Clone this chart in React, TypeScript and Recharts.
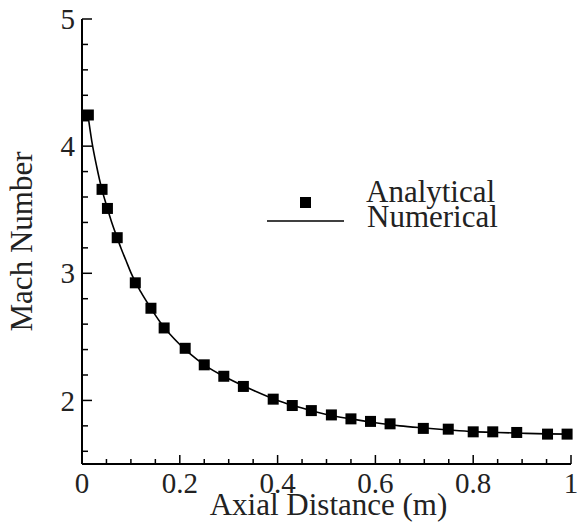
import { ComposedChart, Line, Scatter, XAxis, YAxis, Legend, Label } from "recharts";

// Analytical solution (square markers)
const analyticalX = [
  0.013, 0.041, 0.052, 0.072, 0.109, 0.141, 0.168, 0.211, 0.25, 0.29, 0.33, 0.391, 0.43,
  0.469, 0.51, 0.55, 0.59, 0.63, 0.698, 0.749, 0.8, 0.84, 0.889, 0.952, 0.992,
];
const analyticalY = [
  4.245, 3.66, 3.51, 3.28, 2.925, 2.725, 2.57, 2.41, 2.28, 2.19, 2.11, 2.01, 1.96, 1.92,
  1.886, 1.855, 1.835, 1.816, 1.78, 1.774, 1.753, 1.753, 1.748, 1.735, 1.735,
];

// Numerical solution (solid line)
const numericalX = [
  0.012, 0.02, 0.03, 0.04, 0.05, 0.06, 0.07, 0.08, 0.09, 0.1, 0.12, 0.14, 0.16, 0.18, 0.2,
  0.22, 0.25, 0.3, 0.35, 0.4, 0.45, 0.5, 0.55, 0.6, 0.65, 0.7, 0.75, 0.8, 0.85, 0.9, 0.95, 1.0,
];
const numericalY = [
  4.25, 4.04, 3.84, 3.67, 3.535, 3.41, 3.3, 3.195, 3.1, 3.005, 2.855, 2.73, 2.615, 2.52,
  2.44, 2.37, 2.28, 2.17, 2.08, 2.0, 1.94, 1.89, 1.855, 1.825, 1.8, 1.783, 1.768, 1.755,
  1.748, 1.742, 1.737, 1.735,
];

const xTicks = [
  0, 0.05, 0.1, 0.15, 0.2, 0.25, 0.3, 0.35, 0.4, 0.45, 0.5, 0.55, 0.6, 0.65, 0.7, 0.75, 0.8,
  0.85, 0.9, 0.95, 1,
];
const xTickLabels = ["0", "0.2", "0.4", "0.6", "0.8", "1"];
const yTicks = [
  1.6, 1.8, 2, 2.2, 2.4, 2.6, 2.8, 3, 3.2, 3.4, 3.6, 3.8, 4, 4.2, 4.4, 4.6, 4.8, 5,
];
const yTickLabels = ["2", "3", "4", "5"];

const analytical = analyticalX.map((x, i) => ({ x, y: analyticalY[i] }));
const numerical = numericalX.map((x, i) => ({ x, y: numericalY[i] }));

const FONT = "Liberation Serif";
const INK = "#000";

const fmt = (v: number) => String(Math.round(v * 100) / 100);

function XTick({ x, y, payload }: any) {
  const label = fmt(payload.value);
  const major = xTickLabels.includes(label);
  return (
    <g>
      <line x1={x} x2={x} y1={y} y2={y - (major ? 9 : 5)} stroke={INK} strokeWidth={1.5} />
      {major && (
        <text x={x} y={y + 29} textAnchor="middle" fontFamily={FONT} fontSize={29} fill="#222">
          {label}
        </text>
      )}
    </g>
  );
}

function YTick({ x, y, payload }: any) {
  const label = fmt(payload.value);
  const major = yTickLabels.includes(label);
  return (
    <g>
      <line x1={x} x2={x + (major ? 10 : 6)} y1={y} y2={y} stroke={INK} strokeWidth={1.5} />
      {major && (
        <text x={x - 7} y={y} dy="0.35em" textAnchor="end" fontFamily={FONT} fontSize={29} fill="#222">
          {label}
        </text>
      )}
    </g>
  );
}

const Square = ({ cx, cy }: any) => (
  <rect x={cx - 5.5} y={cy - 5.5} width={11} height={11} fill={INK} />
);

function LegendBox() {
  return (
    <svg width={260} height={60} style={{ display: "block", overflow: "visible" }}>
      <rect x={38} y={19} width={11} height={11} fill={INK} />
      <text x={104} y={24} fontFamily={FONT} fontSize={31} fill="#222">
        Analytical
      </text>
      <line x1={5} x2={82} y1={43} y2={43} stroke={INK} strokeWidth={1.5} />
      <text x={105} y={49} fontFamily={FONT} fontSize={31} fill="#222">
        Numerical
      </text>
    </svg>
  );
}

export default function App() {
  return (
    <div style={{ position: "absolute", left: 0, top: 0, background: "#fff" }}>
      <ComposedChart
        width={577}
        height={524}
        margin={{ top: 19, right: 6, left: 0, bottom: 0 }}
      >
        <XAxis
          type="number"
          dataKey="x"
          domain={[0, 1]}
          ticks={xTicks}
          interval={0}
          height={60}
          tickSize={0}
          tickMargin={0}
          tickLine={false}
          tick={<XTick />}
          axisLine={{ stroke: INK, strokeWidth: 2 }}
        >
          <Label
            content={({ viewBox }: any) => (
              <text
                x={viewBox.x + viewBox.width / 2 + 2}
                y={viewBox.y + 51}
                textAnchor="middle"
                fontFamily={FONT}
                fontSize={31}
                fill="#222"
              >
                Axial Distance (m)
              </text>
            )}
          />
        </XAxis>
        <YAxis
          type="number"
          dataKey="y"
          domain={[1.5, 5]}
          ticks={yTicks}
          interval={0}
          width={82}
          tickSize={0}
          tickMargin={0}
          tickLine={false}
          tick={<YTick />}
          axisLine={{ stroke: INK, strokeWidth: 2 }}
        >
          <Label
            content={({ viewBox }: any) => {
              const cx = viewBox.x + 32;
              const cy = viewBox.y + viewBox.height / 2;
              return (
                <text
                  transform={`translate(${cx},${cy}) rotate(-90)`}
                  textAnchor="middle"
                  fontFamily={FONT}
                  fontSize={31}
                  fill="#222"
                >
                  Mach Number
                </text>
              );
            }}
          />
        </YAxis>
        <Legend
          layout="horizontal"
          verticalAlign="middle"
          align="center"
          content={<LegendBox />}
          wrapperStyle={{ left: 262, top: 178, width: 260 }}
        />
        <Line
          data={numerical}
          dataKey="y"
          type="monotone"
          stroke={INK}
          strokeWidth={1.6}
          dot={false}
          activeDot={false}
          legendType="line"
          isAnimationActive={false}
        />
        <Scatter
          data={analytical}
          dataKey="y"
          shape={<Square />}
          isAnimationActive={false}
        />
      </ComposedChart>
    </div>
  );
}
